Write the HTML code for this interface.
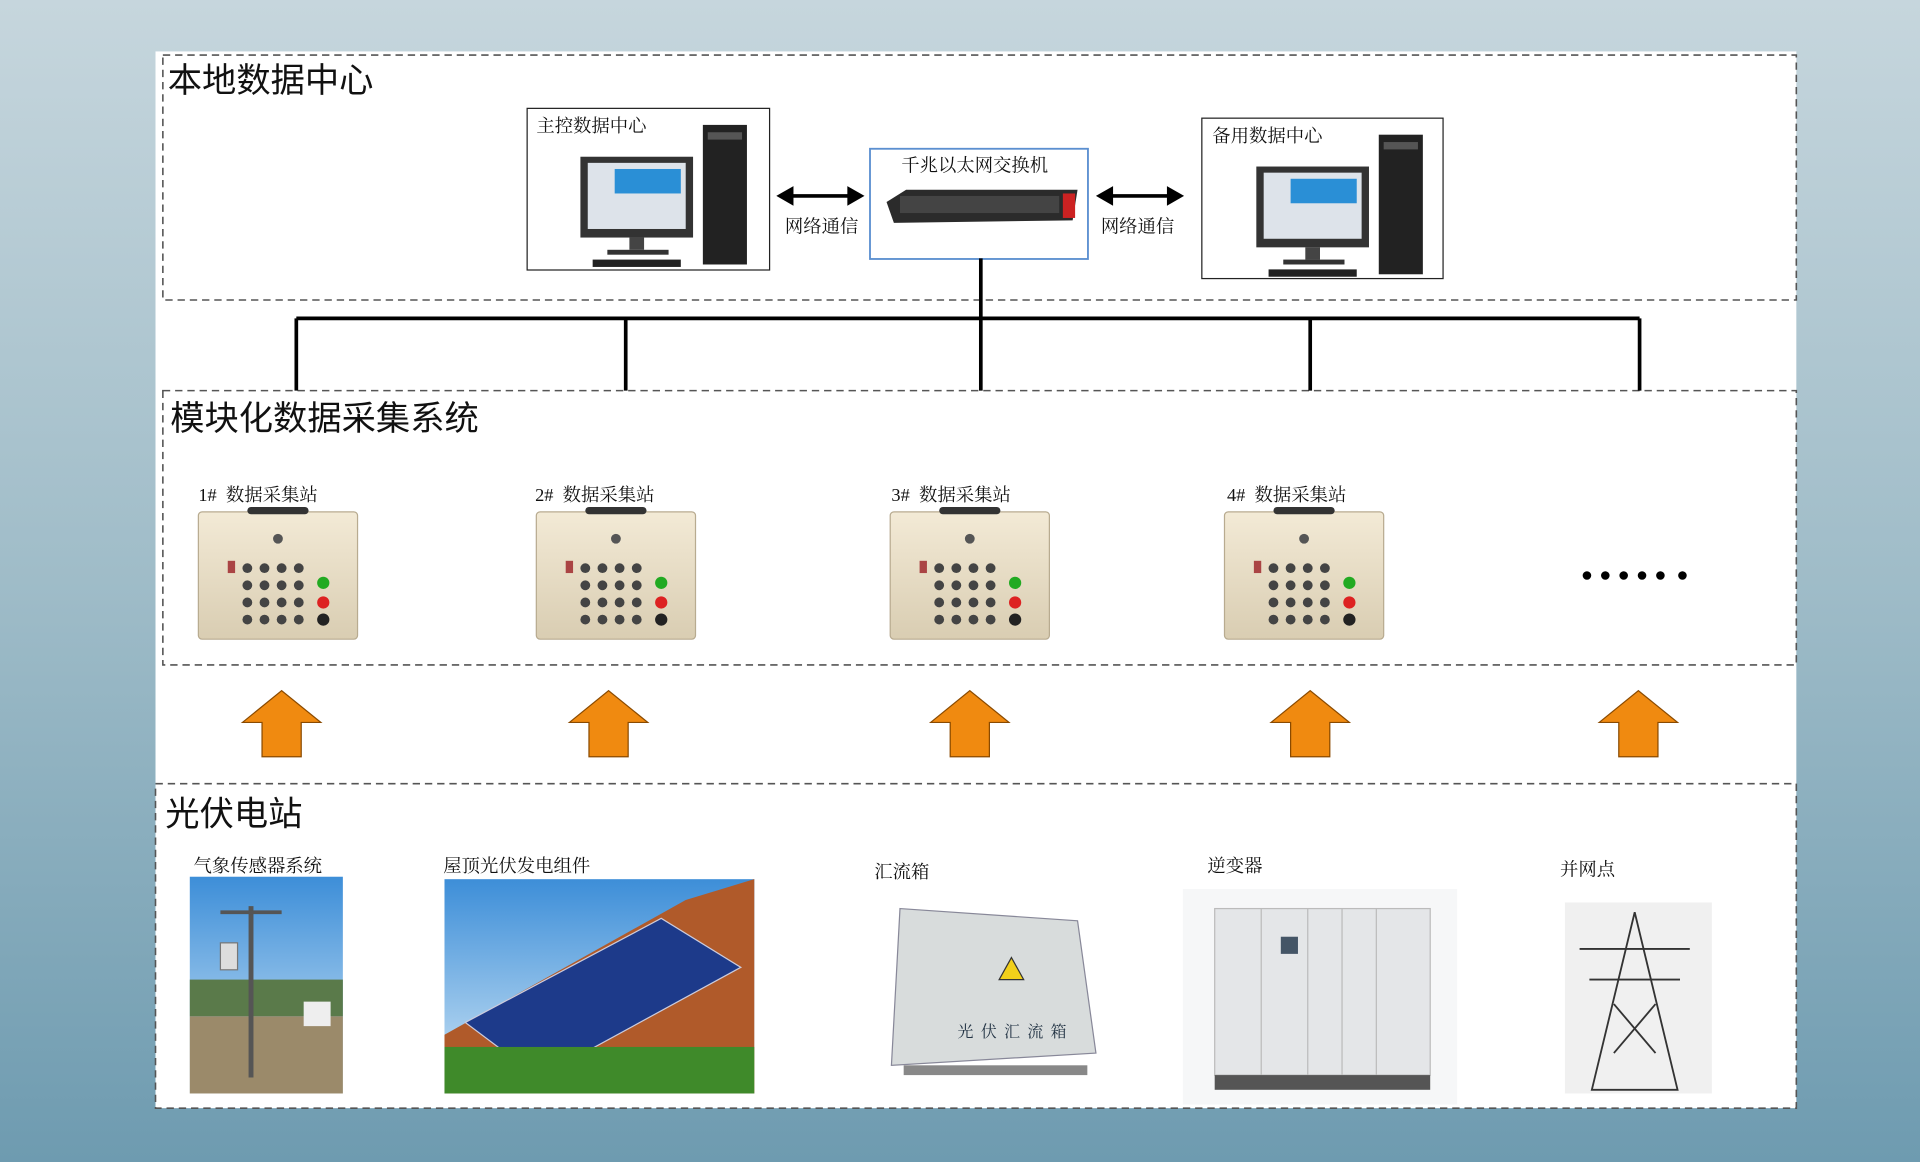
<!DOCTYPE html>
<html><head><meta charset="utf-8"><style>
html,body{margin:0;padding:0;width:1920px;height:1162px;overflow:hidden}
body{background:linear-gradient(#c6d6dd,#9fbcc8 50%,#6e9bb0)}
#s{position:absolute;left:0;top:0;width:1568px;height:949px;transform:scale(1.22449,1.22449);transform-origin:0 0;font-family:"Liberation Serif","Noto Serif CJK SC","Noto Sans CJK SC",serif}
.a{position:absolute}
.t{position:absolute;font-size:15px;color:#111;white-space:nowrap}
.h{position:absolute;font-size:28px;color:#111;white-space:nowrap;font-family:"Liberation Sans","Noto Sans CJK SC",sans-serif}
</style></head><body><div id="s">
<div class="a" style="left:127px;top:42px;width:1340px;height:863px;background:#fff"></div>
<svg class="a" style="left:0;top:0" width="1568" height="949">
<defs>
<linearGradient id="box" x1="0" x2="0" y1="0" y2="1"><stop offset="0" stop-color="#f3ead6"/><stop offset="1" stop-color="#d9cdb2"/></linearGradient>
<linearGradient id="sky" x1="0" x2="0" y1="0" y2="1"><stop offset="0" stop-color="#3d8ed8"/><stop offset="1" stop-color="#cfe6f6"/></linearGradient>
<g id="st">
<rect x="0" y="0" width="130" height="104" rx="3" fill="url(#box)" stroke="#b8ab90"/>
<rect x="40" y="-4" width="50" height="6" rx="3" fill="#333"/>
<circle cx="65" cy="22" r="4" fill="#555"/>
<g fill="#444"><circle cx="40" cy="46" r="4"/><circle cx="54" cy="46" r="4"/><circle cx="68" cy="46" r="4"/><circle cx="82" cy="46" r="4"/>
<circle cx="40" cy="60" r="4"/><circle cx="54" cy="60" r="4"/><circle cx="68" cy="60" r="4"/><circle cx="82" cy="60" r="4"/>
<circle cx="40" cy="74" r="4"/><circle cx="54" cy="74" r="4"/><circle cx="68" cy="74" r="4"/><circle cx="82" cy="74" r="4"/>
<circle cx="40" cy="88" r="4"/><circle cx="54" cy="88" r="4"/><circle cx="68" cy="88" r="4"/><circle cx="82" cy="88" r="4"/></g>
<circle cx="102" cy="58" r="5" fill="#2a2"/><circle cx="102" cy="74" r="5" fill="#d22"/><circle cx="102" cy="88" r="5" fill="#222"/>
<rect x="24" y="40" width="6" height="10" fill="#a44"/>
</g>
<g id="pc">
<rect x="0" y="0" width="92" height="66" fill="#333"/><rect x="6" y="5" width="80" height="54" fill="#dde3ea"/>
<rect x="28" y="10" width="54" height="20" fill="#2a8fd6"/>
<rect x="40" y="66" width="12" height="10" fill="#444"/><rect x="22" y="76" width="50" height="4" fill="#333"/>
<rect x="10" y="84" width="72" height="6" fill="#222"/>
<rect x="100" y="-26" width="36" height="114" fill="#222"/><rect x="104" y="-20" width="28" height="6" fill="#555"/>
</g>
<g id="ar"><polygon points="0,26 32,0 64,26 48,26 48,54 16,54 16,26" fill="#f08a10" stroke="#8a4a00" stroke-width="1"/></g>
</defs>
<g fill="none" stroke="#555" stroke-width="1.3" stroke-dasharray="6,4">
<rect x="133" y="45" width="1334" height="200"/>
<rect x="133" y="319" width="1334" height="224"/>
<rect x="127" y="640" width="1340" height="265"/>
</g>
<rect x="430.5" y="88.5" width="198" height="132" fill="#fff" stroke="#222"/>
<rect x="981.5" y="96.5" width="197" height="131" fill="#fff" stroke="#222"/>
<rect x="710.5" y="121.5" width="178" height="90" fill="#fff" stroke="#5b8fd0" stroke-width="1.5"/>
<use href="#pc" x="474" y="128"/>
<use href="#pc" x="1026" y="136"/>
<polygon points="724,165 740,155 880,155 876,180 730,182" fill="#2b2b2b"/>
<rect x="735" y="160" width="130" height="14" fill="#444"/>
<rect x="868" y="158" width="10" height="20" fill="#c22"/>
<g stroke="#000" stroke-width="3" fill="#000">
<line x1="644" y1="160" x2="696" y2="160"/><polygon points="634,160 648,152 648,168" stroke="none"/><polygon points="706,160 692,152 692,168" stroke="none"/>
<line x1="905" y1="160" x2="957" y2="160"/><polygon points="895,160 909,152 909,168" stroke="none"/><polygon points="967,160 953,152 953,168" stroke="none"/>
</g>
<g stroke="#000" stroke-width="3" fill="none">
<line x1="801" y1="211" x2="801" y2="319"/>
<line x1="242" y1="260" x2="1339" y2="260"/>
<line x1="242" y1="260" x2="242" y2="319"/><line x1="511" y1="260" x2="511" y2="319"/>
<line x1="1070" y1="260" x2="1070" y2="319"/><line x1="1339" y1="260" x2="1339" y2="319"/>
</g>
<use href="#st" x="162" y="418"/><use href="#st" x="438" y="418"/><use href="#st" x="727" y="418"/><use href="#st" x="1000" y="418"/>
<g fill="#000"><circle cx="1296" cy="470" r="3.5"/><circle cx="1311" cy="470" r="3.5"/><circle cx="1326" cy="470" r="3.5"/><circle cx="1341" cy="470" r="3.5"/><circle cx="1356" cy="470" r="3.5"/><circle cx="1374" cy="470" r="3.5"/></g>
<use href="#ar" x="198" y="564"/><use href="#ar" x="465" y="564"/><use href="#ar" x="760" y="564"/><use href="#ar" x="1038" y="564"/><use href="#ar" x="1306" y="564"/>
<rect x="155" y="716" width="125" height="177" fill="url(#sky)"/>
<rect x="155" y="800" width="125" height="30" fill="#5a7a4a"/>
<rect x="155" y="830" width="125" height="63" fill="#9b8a6a"/>
<line x1="205" y1="740" x2="205" y2="880" stroke="#555" stroke-width="4"/>
<line x1="180" y1="745" x2="230" y2="745" stroke="#555" stroke-width="3"/>
<rect x="180" y="770" width="14" height="22" fill="#ddd" stroke="#777"/>
<rect x="248" y="818" width="22" height="20" fill="#eee"/>
<rect x="363" y="718" width="253" height="175" fill="url(#sky)"/>
<polygon points="363,845 560,735 616,718 616,893 363,893" fill="#b05a2a"/>
<polygon points="380,835 540,750 605,790 440,880" fill="#1d3a8a" stroke="#ccd" stroke-width="1"/>
<rect x="363" y="855" width="253" height="38" fill="#3f8a2a"/>
<polygon points="735,742 880,752 895,860 728,870" fill="#d8dcdc" stroke="#889"/>
<polygon points="816,800 826,782 836,800" fill="#f2d01a" stroke="#333"/>
<rect x="738" y="870" width="150" height="8" fill="#888"/>
<rect x="966" y="726" width="224" height="176" fill="#f6f7f8"/>
<rect x="992" y="742" width="176" height="136" fill="#e4e6e8" stroke="#bbb"/>
<g stroke="#bbb"><line x1="1030" y1="742" x2="1030" y2="878"/><line x1="1068" y1="742" x2="1068" y2="878"/><line x1="1096" y1="742" x2="1096" y2="878"/><line x1="1124" y1="742" x2="1124" y2="878"/></g>
<rect x="1046" y="765" width="14" height="14" fill="#456"/>
<rect x="992" y="878" width="176" height="12" fill="#555"/>
<rect x="1278" y="737" width="120" height="156" fill="#f0f0f0"/>
<g stroke="#333" stroke-width="1.5" fill="none">
<polygon points="1335,745 1300,890 1370,890"/><line x1="1290" y1="775" x2="1380" y2="775"/><line x1="1298" y1="800" x2="1372" y2="800"/>
<line x1="1318" y1="820" x2="1352" y2="860"/><line x1="1352" y1="820" x2="1318" y2="860"/></g>
</svg>
<div class="h" style="left:137px;top:44px">本地数据中心</div>
<div class="h" style="left:139px;top:320px">模块化数据采集系统</div>
<div class="h" style="left:135px;top:643px">光伏电站</div>
<div class="t" style="left:438px;top:92px">主控数据中心</div>
<div class="t" style="left:990px;top:100px">备用数据中心</div>
<div class="t" style="left:736px;top:124px">千兆以太网交换机</div>
<div class="t" style="left:641px;top:174px">网络通信</div>
<div class="t" style="left:899px;top:174px">网络通信</div>
<div class="t" style="left:162px;top:393px">1#&nbsp; 数据采集站</div>
<div class="t" style="left:437px;top:393px">2#&nbsp; 数据采集站</div>
<div class="t" style="left:728px;top:393px">3#&nbsp; 数据采集站</div>
<div class="t" style="left:1002px;top:393px">4#&nbsp; 数据采集站</div>
<div class="t" style="left:158px;top:696px">气象传感器系统</div>
<div class="t" style="left:362px;top:696px">屋顶光伏发电组件</div>
<div class="t" style="left:714px;top:701px">汇流箱</div>
<div class="t" style="left:986px;top:696px">逆变器</div>
<div class="t" style="left:1274px;top:699px">并网点</div>
<div class="t" style="left:782px;top:832px;color:#234;font-size:13px;letter-spacing:6px">光伏汇流箱</div>
</div></body></html>
